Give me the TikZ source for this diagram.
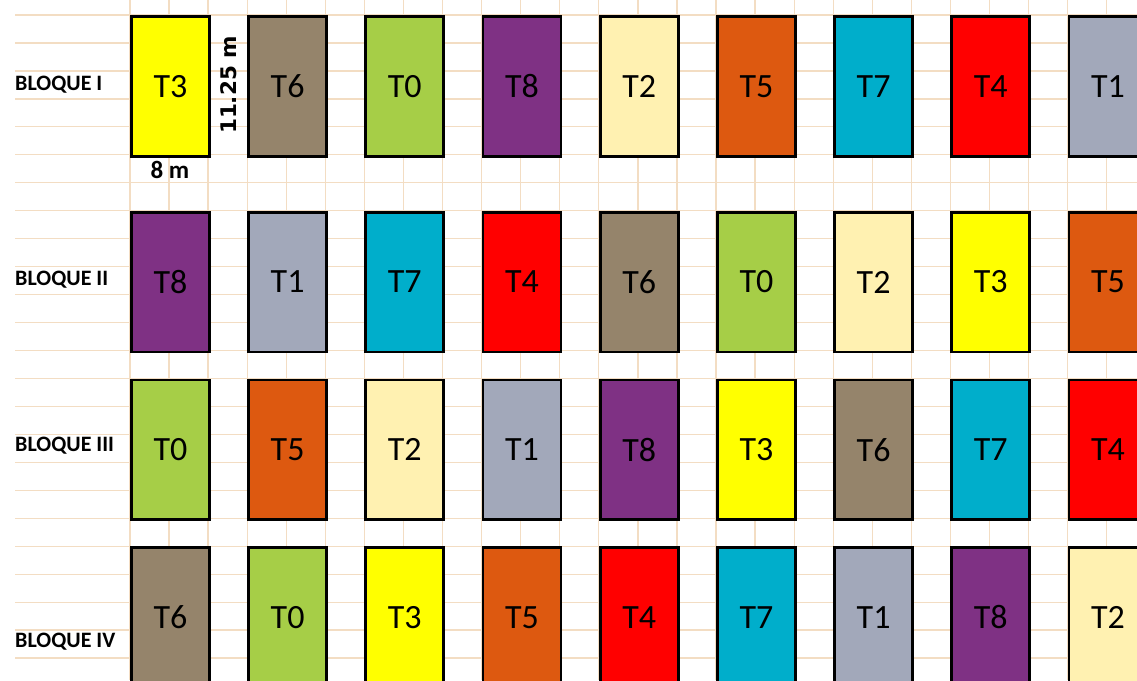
\documentclass[tikz,border=0pt]{standalone}
\usepackage{fontspec}
\setmainfont{Carlito}
\newfontfamily\dejavu{DejaVu Sans}
\definecolor{cT0}{HTML}{A6CE47}
\definecolor{cT1}{HTML}{A2A8BA}
\definecolor{cT2}{HTML}{FFF1B1}
\definecolor{cT3}{HTML}{FFFF00}
\definecolor{cT4}{HTML}{FF0000}
\definecolor{cT5}{HTML}{DD5910}
\definecolor{cT6}{HTML}{95846B}
\definecolor{cT7}{HTML}{00AECB}
\definecolor{cT8}{HTML}{7F3184}
\definecolor{gridc}{HTML}{F3DDC3}
\begin{document}
\begin{tikzpicture}[x=1pt,y=-1pt,
  plotbox/.style={draw=black, line width=2.8pt, minimum width=78pt, minimum height=139.8pt,
    inner sep=0pt, anchor=north west, font=\fontsize{34}{34}\selectfont},
  blocklabel/.style={anchor=west, inner sep=0pt, font=\bfseries\fontsize{22}{22}\selectfont},
  gridline/.style={draw=gridc, line width=1.3pt}]
\useasboundingbox (0,0) rectangle (1137,680);
\clip (0,0) rectangle (1137,680);
\fill[white] (0,0) rectangle (1137,680);
% spreadsheet grid
\foreach \k in {0,...,25} \draw[gridline] ({130+39.07*\k},0) -- ({130+39.07*\k},680);
\foreach \k in {0,...,23} \draw[gridline] (15,{15+27.96*\k}) -- (1137,{15+27.96*\k});
% plots
\foreach \t [count=\j from 0] in {T3,T6,T0,T8,T2,T5,T7,T4,T1}
  \node[plotbox, fill=c\t] (r1c\j) at ({130+117.2*\j},15) {\t};
\foreach \t [count=\j from 0] in {T8,T1,T7,T4,T6,T0,T2,T3,T5}
  \node[plotbox, fill=c\t] (r2c\j) at ({130+117.2*\j},210.7) {\t};
\foreach \t [count=\j from 0] in {T0,T5,T2,T1,T8,T3,T6,T7,T4}
  \node[plotbox, fill=c\t] (r3c\j) at ({130+117.2*\j},378.5) {\t};
\foreach \t [count=\j from 0] in {T6,T0,T3,T5,T4,T7,T1,T8,T2}
  \node[plotbox, fill=c\t] (r4c\j) at ({130+117.2*\j},546.2) {\t};
% block labels
\node[blocklabel] (b1) at (15,85) {BLOQUE I};
\node[blocklabel] (b2) at (15,280) {BLOQUE II};
\node[blocklabel] (b3) at (15,446) {BLOQUE III};
\node[blocklabel] (b4) at (15,642) {BLOQUE IV};
% dimensions
\node[inner sep=0pt, font=\bfseries\fontsize{25}{25}\selectfont] (dimw) at (170,170) {8 m};
\node[inner sep=0pt, rotate=90, font=\dejavu\bfseries\fontsize{21.5}{21.5}\selectfont] (dimh) at (229,85) {11.25 m};
\end{tikzpicture}
\end{document}
